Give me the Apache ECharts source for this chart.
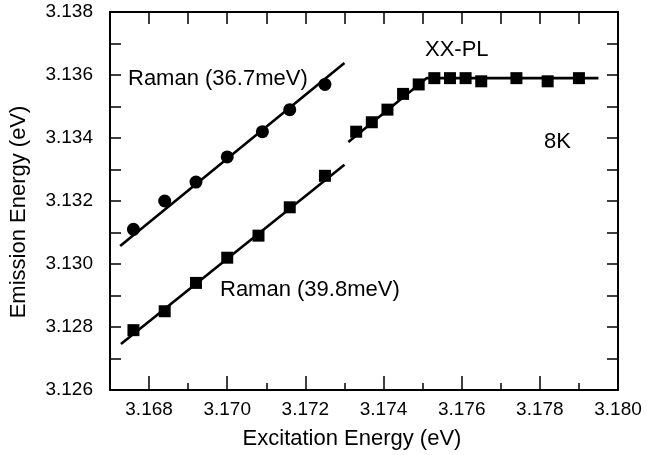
<!DOCTYPE html>
<html>
<head>
<meta charset="utf-8">
<script src="https://cdn.jsdelivr.net/npm/echarts@6/dist/echarts.min.js"></script>
<style>
html,body{margin:0;padding:0;background:#fff;}
#chart{width:647px;height:455px;}
</style>
</head>
<body>
<div id="chart"></div>
<script>
// Raman (36.7meV) – circles
var ramanA_x = [3.1676, 3.1684, 3.1692, 3.1700, 3.1709, 3.1716, 3.1725];
var ramanA_y = [3.1311, 3.1320, 3.1326, 3.1334, 3.1342, 3.1349, 3.1357];
// Raman (39.8meV) – squares
var ramanB_x = [3.1676, 3.1684, 3.1692, 3.1700, 3.1708, 3.1716, 3.1725];
var ramanB_y = [3.1279, 3.1285, 3.1294, 3.1302, 3.1309, 3.1318, 3.1328];
// XX-PL – squares
var xx_x = [3.1733, 3.1737, 3.1741, 3.1745, 3.1749, 3.1753, 3.1757, 3.1761, 3.1765, 3.1774, 3.1782, 3.1790];
var xx_y = [3.1342, 3.1345, 3.1349, 3.1354, 3.1357, 3.1359, 3.1359, 3.1359, 3.1358, 3.1359, 3.1358, 3.1359];
// fitted lines
var fitA_x = [3.16726, 3.1730];
var fitA_y = [3.13057, 3.13638];
var fitB_x = [3.16728, 3.1730];
var fitB_y = [3.12746, 3.13315];
var fitXX_x = [3.1731, 3.1751, 3.1795];
var fitXX_y = [3.13387, 3.1359, 3.1359];
// axis ranges / tick labels
var xMin = 3.167, xMax = 3.180, xStep = 0.001;
var xMajorTicks = [3.168, 3.170, 3.172, 3.174, 3.176, 3.178, 3.180];
var yMin = 3.126, yMax = 3.138, yStep = 0.002;

function pairs(xs, ys){ return xs.map(function(x,i){ return [x, ys[i]]; }); }

var FONT = "'Liberation Sans', Arial, sans-serif";
var chart = echarts.init(document.getElementById('chart'), null, {renderer:'canvas'});

var AX_LINE = {show:true, onZero:false, lineStyle:{color:'#000', width:2}};
var xAxes = [
  { // bottom, all 0.001 ticks (short), labels on even
    type:'value', position:'bottom', min:xMin, max:xMax, interval:xStep,
    axisLine:AX_LINE,
    axisTick:{show:true, inside:true, length:7, lineStyle:{color:'#000', width:1.5}},
    splitLine:{show:false},
    axisLabel:{show:true, margin:10, color:'#000', fontSize:19, fontFamily:FONT,
      formatter:function(v){ return (Math.round(v*1000) % 2 === 0) ? v.toFixed(3) : ''; },
      showMinLabel:true, showMaxLabel:true},
    name:'Excitation Energy (eV)', nameLocation:'middle', nameGap:38,
    nameTextStyle:{color:'#000', fontSize:22, fontFamily:FONT, padding:[0,24,0,0]}
  },
  { // bottom, long major ticks
    type:'value', position:'bottom', min:xMin, max:xMax, interval:xStep,
    axisLine:{show:false},
    axisTick:{show:true, inside:true, length:14, customValues:xMajorTicks, lineStyle:{color:'#000', width:1.5}},
    splitLine:{show:false}, axisLabel:{show:false}
  },
  { // top mirror
    type:'value', position:'top', min:xMin, max:xMax, interval:xStep,
    axisLine:AX_LINE,
    axisTick:{show:true, inside:true, length:12, lineStyle:{color:'#000', width:1.5}},
    splitLine:{show:false}, axisLabel:{show:false}
  }
];
function yAx(pos, showLabel){
  return {
    type:'value', position:pos, min:yMin, max:yMax, interval:yStep,
    axisLine:AX_LINE,
    axisTick:{show:true, inside:true, length:11, lineStyle:{color:'#000', width:1.5}},
    minorTick:{show:true, splitNumber:2, length:11, lineStyle:{color:'#000', width:1.5}},
    splitLine:{show:false},
    axisLabel:{show:showLabel, margin:17, color:'#000', fontSize:19, fontFamily:FONT,
      formatter:function(v){ return v.toFixed(3); }},
    name: showLabel ? 'Emission Energy (eV)' : '',
    nameLocation:'middle', nameGap:80,
    nameTextStyle:{color:'#000', fontSize:22, fontFamily:FONT, padding:[0,22,0,0]}
  };
}

var option = {
  animation:false,
  backgroundColor:'#fff',
  grid:{left:109, top:12, right:29, bottom:63, containLabel:false},
  xAxis:xAxes,
  yAxis:[yAx('left', true), yAx('right', false)],
  series:[
    {type:'line', data:pairs(fitA_x, fitA_y), showSymbol:false, symbol:'none',
      lineStyle:{color:'#000', width:2.6}, z:2},
    {type:'line', data:pairs(fitB_x, fitB_y), showSymbol:false, symbol:'none',
      lineStyle:{color:'#000', width:2.6}, z:2},
    {type:'line', data:pairs(fitXX_x, fitXX_y), showSymbol:false, symbol:'none',
      lineStyle:{color:'#000', width:2.6}, z:2},
    {type:'scatter', data:pairs(ramanA_x, ramanA_y), symbol:'circle', symbolSize:13,
      itemStyle:{color:'#000', opacity:1}, z:3},
    {type:'scatter', data:pairs(ramanB_x, ramanB_y), symbol:'rect', symbolSize:12,
      itemStyle:{color:'#000', opacity:1}, z:3},
    {type:'scatter', data:pairs(xx_x, xx_y), symbol:'rect', symbolSize:12,
      itemStyle:{color:'#000', opacity:1}, z:3}
  ],
  graphic:[
    {type:'text', left:128, top:68, style:{text:'Raman (36.7meV)', fill:'#000', font:'22px '+FONT}},
    {type:'text', left:220, top:279, style:{text:'Raman (39.8meV)', fill:'#000', font:'22px '+FONT}},
    {type:'text', left:425, top:39, style:{text:'XX-PL', fill:'#000', font:'22px '+FONT}},
    {type:'text', left:544, top:131, style:{text:'8K', fill:'#000', font:'22px '+FONT}}
  ]
};
chart.setOption(option);
</script>
</body>
</html>
